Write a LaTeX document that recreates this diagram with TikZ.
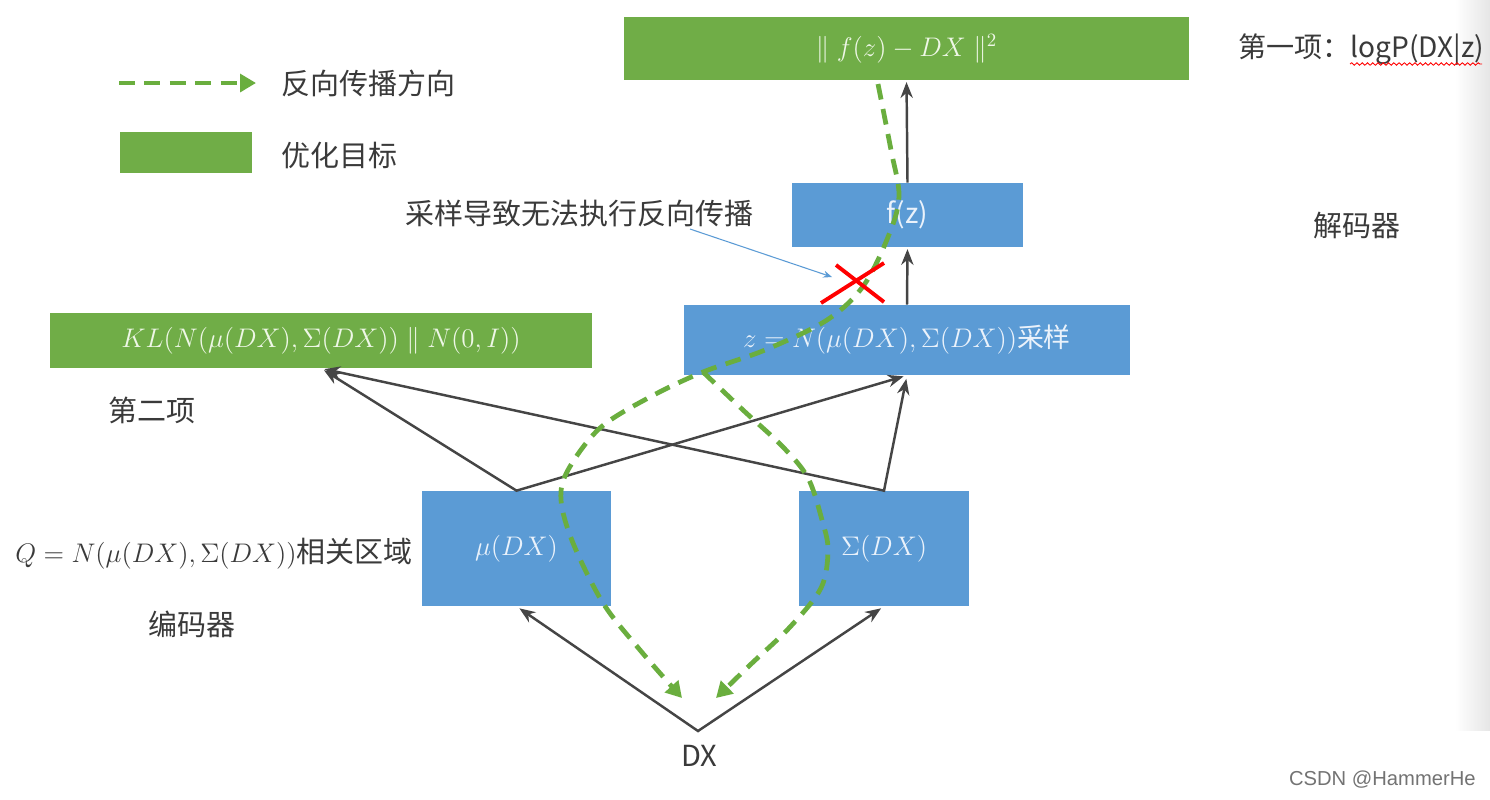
\RequirePackage{fix-cm}
\documentclass[tikz,border=0pt]{standalone}
\usepackage{fontspec}
\setmainfont{Noto Sans CJK SC}
\newfontfamily\latinsans{Liberation Sans}
\usetikzlibrary{arrows.meta,decorations.pathmorphing,calc}
\definecolor{gfill}{HTML}{70AD47}
\definecolor{bfill}{HTML}{5B9BD5}
\definecolor{gtxt}{HTML}{EEF7E6}
\definecolor{btxt}{HTML}{EAF2FB}
\definecolor{arrc}{HTML}{454545}
\definecolor{bpc}{HTML}{6AAE3E}
\definecolor{labelc}{HTML}{3A3A3A}
\definecolor{ptrc}{HTML}{5B9BD5}
\newcommand{\mfont}{\fontsize{15.3}{18.5}\selectfont}
\newcommand{\cfont}{\fontsize{16.5}{20}\selectfont}
\begin{document}
\begin{tikzpicture}[x=0.02cm,y=-0.02cm,
  gbox/.style={fill=gfill, draw=none, inner sep=0pt, text=gtxt},
  bbox/.style={fill=bfill, draw=none, inner sep=0pt, text=btxt},
  lbl/.style={text=labelc, font=\cfont, inner sep=0pt, anchor=west},
  arr/.style={draw=arrc, line width=1.4pt, line join=miter, -{Stealth[length=9pt,width=7pt]}},
  darr/.style={draw=arrc, line width=1.4pt, line join=miter, {Stealth[length=9pt,width=7pt]}-{Stealth[length=9pt,width=7pt]}},
  bp/.style={draw=bpc, line width=2.7pt, dash pattern=on 9pt off 5.5pt, -{Triangle[length=9pt,width=10pt]}},
  xred/.style={draw=red, line width=2.2pt},
  ptr/.style={draw=ptrc, line width=0.6pt, -{Stealth[length=5pt,width=4pt]}}
]
\useasboundingbox (0,0) rectangle (1490,799);
\fill[white] (0,0) rectangle (1490,799);
\shade[left color=white, right color=black!10] (1455,0) rectangle (1490,730);

% boxes
\node[gbox, minimum width=11.3cm, minimum height=1.26cm] (top) at (906.5,48.5) {\mfont $\parallel f(z)-DX\parallel^2$};
\node[bbox, minimum width=4.62cm, minimum height=1.28cm] (fz) at (907.5,215) {\fontsize{16}{19}\selectfont f(z)};
\node[bbox, minimum width=8.92cm, minimum height=1.4cm] (zb) at (907,340) {\mfont $z=N\bigl(\mu(DX),\Sigma(DX)\bigr)$采样};
\node[gbox, minimum width=10.84cm, minimum height=1.1cm] (kl) at (321,340.5) {\mfont $KL(N\bigl(\mu(DX),\Sigma(DX)\bigr)\parallel N(0,I))$};
\node[bbox, minimum width=3.78cm, minimum height=2.3cm] (mu) at (516.5,548.5) {\mfont $\mu(DX)$};
\node[bbox, minimum width=3.4cm, minimum height=2.3cm] (sig) at (884,548.5) {\mfont $\Sigma(DX)$};

% legend
\coordinate (lgA) at (119,83);
\coordinate (lgB) at (256,83);
\draw[bp] (lgA) -- (lgB);
\node[lbl] (lgt1) at (281,83) {反向传播方向};
\node[gbox, minimum width=2.64cm, minimum height=0.82cm] (lgbox) at (186,152.5) {};
\node[lbl] (lgt2) at (281,155) {优化目标};

% labels
\node[lbl, font=\fontsize{16}{19}\selectfont] (first) at (1238,50) {第一项：logP(DX|z)};
\draw[red, line width=0.5pt, decorate, decoration={snake, amplitude=0.7pt, segment length=3pt}] (1350,64) -- (1482,64);
\node[lbl] (samp) at (405,213) {采样导致无法执行反向传播};
\node[lbl] (dec) at (1313,226) {解码器};
\node[lbl] (second) at (108,410) {第二项};
\node[lbl] (qlab) at (15,554) {\mfont $Q=N\bigl(\mu(DX),\Sigma(DX)\bigr)$\cfont 相关区域};
\node[lbl] (enc) at (148,624) {编码器};
\node[text=labelc, inner sep=0pt, font=\fontsize{16.5}{20}\selectfont] (dx) at (699,756) {DX};
\coordinate (dxv) at (698,731);

% network arrows
\draw[darr, shorten <=2pt, shorten >=2pt] (mu.south) -- (dxv) -- (sig.south);
\draw[darr, shorten <=2pt, shorten >=2pt] (kl.south) -- (mu.north) -- (zb.south);
\draw[darr, shorten <=2pt, shorten >=2pt] (kl.south) -- (sig.north) -- (zb.south);
\draw[arr, shorten >=1pt] (zb.north) -- (fz.south);
\draw[arr, shorten >=1pt] (fz.north) -- (top.south);

% back-propagation paths
\coordinate (bpS) at (878,84);
\coordinate (bpM) at (703,372);
\coordinate (bpL) at (682,698);
\coordinate (bpR) at (716,698);
\draw[bp] plot[smooth, tension=0.55] coordinates {(bpS) (891,150) (899,195) (890,232) (864,285) (827,320) (765,350) (bpM) (650,397) (600,428) (568,470) (561,500) (573,543) (603,603) (640,650) (bpL)};
\draw[bp] plot[smooth, tension=0.55] coordinates {(bpM) (743,410) (783,447) (808,478) (822,520) (828,550) (821,588) (790,627) (750,665) (bpR)};

% blocked sampling
\draw[xred] (821,303) -- (884,263);
\draw[xred] (836,265) -- (884,302);
\coordinate (ptA) at (690,229);
\coordinate (ptB) at (832,277);
\draw[ptr] (ptA) -- (ptB);

% watermark
\node[anchor=east, inner sep=0pt, text=black!55, font=\latinsans\fontsize{11.5}{13}\selectfont] (wm) at (1476,780) {CSDN @HammerHe};
\end{tikzpicture}
\end{document}
